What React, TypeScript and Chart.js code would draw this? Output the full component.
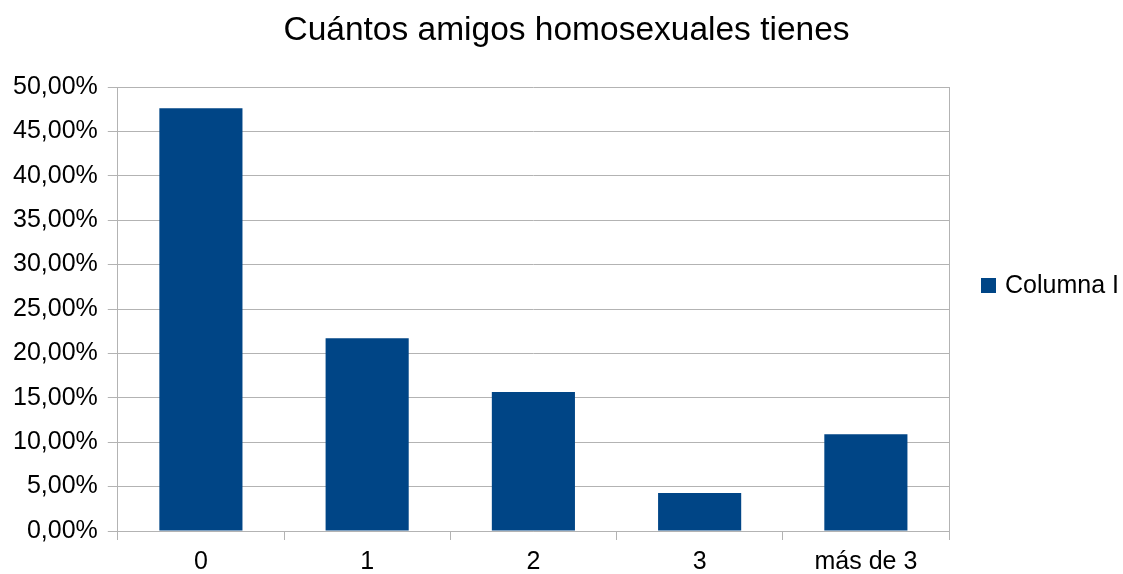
import React, { useEffect, useRef } from "react";
import { Chart, registerables } from "chart.js";

Chart.register(...registerables);

const categories = ["0", "1", "2", "3", "más de 3"];
const seriesLabel = "Columna I";
const seriesValues = [47.6, 21.7, 15.65, 4.28, 10.9];
const titleText = "Cuántos amigos homosexuales tienes";
const yMax = 50;
const yStep = 5;

const BAR_COLOR = "#004586";
const GRID_COLOR = "#b3b3b3";
const FONT = "'Liberation Sans', Arial, sans-serif";

const legendTitlePlugin = {
  id: "customLegendTitle",
  afterDraw(chart: any) {
    const { ctx, chartArea } = chart;
    const ds = chart.data.datasets[0];
    ctx.save();
    // title
    ctx.fillStyle = "#000";
    ctx.font = `33.5px ${FONT}`;
    ctx.textAlign = "center";
    ctx.textBaseline = "middle";
    ctx.fillText(titleText, chart.width / 2 + 5, 31);
    // legend
    const cy = chart.height / 2 - 2;
    const bx = chartArea.right + 32;
    ctx.fillStyle = ds.backgroundColor;
    ctx.fillRect(bx, cy - 7, 15, 15);
    ctx.fillStyle = "#000";
    ctx.font = `25px ${FONT}`;
    ctx.textBaseline = "middle";
    ctx.textAlign = "left";
    ctx.fillText(ds.label, bx + 24, cy + 1);
    ctx.restore();
  },
};

export default function App() {
  const ref = useRef<HTMLCanvasElement>(null);
  useEffect(() => {
    if (!ref.current) return;
    const chart = new Chart(ref.current, {
      type: "bar",
      data: {
        labels: categories,
        datasets: [
          {
            label: seriesLabel,
            data: seriesValues,
            backgroundColor: BAR_COLOR,
            barPercentage: 0.5,
            categoryPercentage: 1,
          },
        ],
      },
      options: {
        animation: false,
        responsive: true,
        maintainAspectRatio: false,
        layout: { padding: { left: 3, right: 174, top: 87, bottom: -11 } },
        plugins: {
          legend: { display: false },
          tooltip: { enabled: false },
          title: { display: false },
        },
        scales: {
          x: {
            offset: true,
            grid: {
              offset: true,
              drawOnChartArea: true,
              color: (c: any) => (c.index === 0 || c.index === undefined ? GRID_COLOR : "rgba(0,0,0,0)"),
              tickColor: GRID_COLOR,
              tickLength: 9,
            },
            border: { display: true, color: GRID_COLOR },
            ticks: {
              color: "#000",
              font: { family: FONT, size: 25, lineHeight: 1 },
              padding: 10,
              maxRotation: 0,
            },
          },
          y: {
            min: 0,
            max: yMax,
            grid: { color: GRID_COLOR, tickColor: GRID_COLOR, tickLength: 10 },
            border: { display: true, color: GRID_COLOR },
            ticks: {
              stepSize: yStep,
              color: "#000",
              font: { family: FONT, size: 25, lineHeight: 1 },
              padding: 10,
              callback: (v: any) => Number(v).toFixed(2).replace(".", ",") + "%",
            },
          },
        },
      },
      plugins: [legendTitlePlugin],
    });
    return () => chart.destroy();
  }, []);
  return (
    <div style={{ position: "fixed", left: 0, top: 0, width: 1123, height: 574, background: "#fff" }}>
      <canvas ref={ref} />
    </div>
  );
}
